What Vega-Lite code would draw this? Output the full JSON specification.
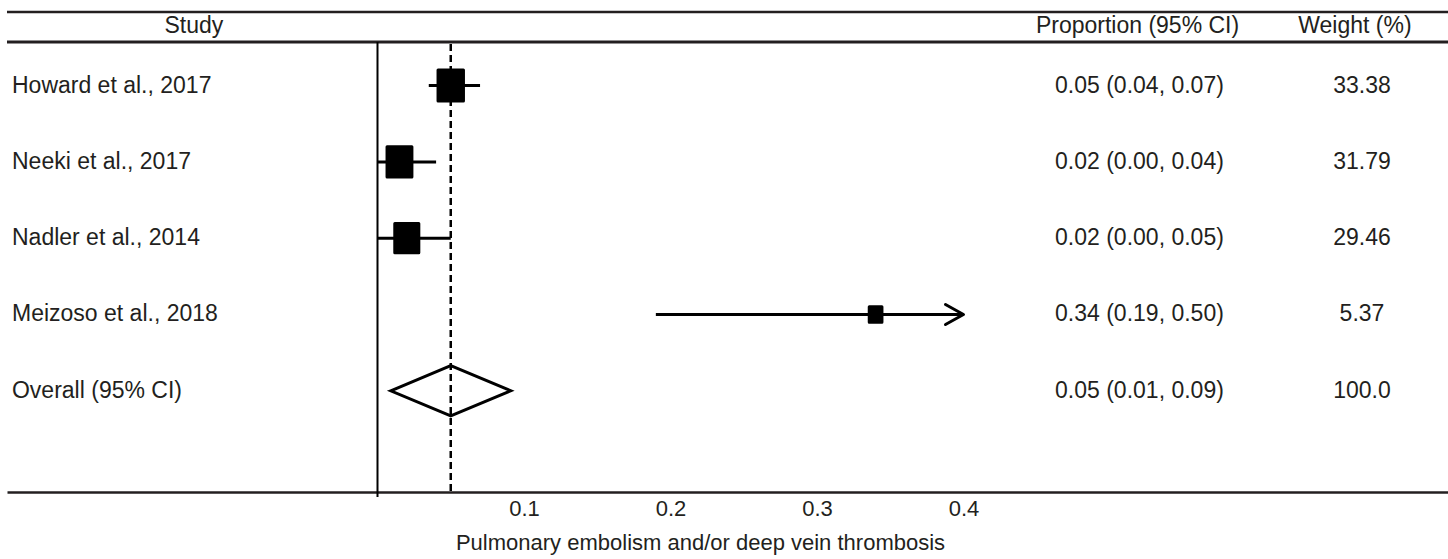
{
  "$schema": "https://vega.github.io/schema/vega-lite/v6.json",
  "width": 1441,
  "height": 480,
  "autosize": {"type": "none"},
  "padding": {"left": 7, "top": 12, "right": 0, "bottom": 67},
  "background": "white",
  "config": {
    "view": {"stroke": null},
    "font": "Liberation Sans",
    "text": {"font": "Liberation Sans", "fontSize": 23, "color": "#231f20", "baseline": "middle"}
  },
  "datasets": {
    "studies": [
      {"study": "Howard et al., 2017", "row": 1, "kind": "study", "est": 0.05, "lo": 0.035, "hi": 0.07, "hi_drawn": 0.07, "truncated": false, "weight": 33.38, "ci_label": "0.05 (0.04, 0.07)", "weight_label": "33.38"},
      {"study": "Neeki et al., 2017", "row": 2, "kind": "study", "est": 0.015, "lo": 0.0, "hi": 0.04, "hi_drawn": 0.04, "truncated": false, "weight": 31.79, "ci_label": "0.02 (0.00, 0.04)", "weight_label": "31.79"},
      {"study": "Nadler et al., 2014", "row": 3, "kind": "study", "est": 0.02, "lo": 0.0, "hi": 0.05, "hi_drawn": 0.05, "truncated": false, "weight": 29.46, "ci_label": "0.02 (0.00, 0.05)", "weight_label": "29.46"},
      {"study": "Meizoso et al., 2018", "row": 4, "kind": "study", "est": 0.34, "lo": 0.19, "hi": 0.5, "hi_drawn": 0.4, "truncated": true, "weight": 5.37, "ci_label": "0.34 (0.19, 0.50)", "weight_label": "5.37"},
      {"study": "Overall (95% CI)", "row": 5, "kind": "overall", "est": 0.05, "lo": 0.01, "hi": 0.09, "hi_drawn": 0.09, "truncated": false, "weight": 100.0, "ci_label": "0.05 (0.01, 0.09)", "weight_label": "100.0"}
    ]
  },
  "layer": [
    {
      "data": {"name": "studies"},
      "transform": [{"filter": "datum.kind === 'study'"}],
      "mark": {"type": "rule", "color": "#000000", "strokeWidth": 3},
      "encoding": {
        "x": {
          "field": "lo", "type": "quantitative",
          "scale": {"domain": [-0.2529, 0.73072], "nice": false, "zero": false},
          "title": "Pulmonary embolism and/or deep vein thrombosis",
          "axis": {
            "values": [0.1, 0.2, 0.3, 0.4], "format": ".1f",
            "ticks": false, "grid": false,
            "domain": true, "domainColor": "#231f20", "domainWidth": 2.5,
            "labelFont": "Liberation Sans", "labelFontSize": 22, "labelColor": "#231f20", "labelPadding": 6,
            "labelFlush": false,
            "titleFont": "Liberation Sans", "titleFontSize": 22, "titleFontWeight": "normal", "titleColor": "#231f20",
            "titlePadding": 13, "titleX": 693
          }
        },
        "x2": {"field": "hi_drawn"},
        "y": {"field": "row", "type": "quantitative", "scale": {"domain": [0.0354, 6.3264], "reverse": true, "nice": false, "zero": false}, "axis": null}
      }
    },
    {
      "data": {"values": [{}]},
      "mark": {"type": "rule", "color": "#231f20", "strokeWidth": 2.5},
      "encoding": {
        "y": {"datum": 0.0354, "scale": {"domain": [0.0354, 6.3264], "reverse": true, "nice": false, "zero": false}, "axis": null}
      }
    },
    {
      "data": {"values": [{}]},
      "mark": {"type": "rule", "color": "#231f20", "strokeWidth": 3},
      "encoding": {
        "y": {"datum": 0.4286, "scale": {"domain": [0.0354, 6.3264], "reverse": true, "nice": false, "zero": false}, "axis": null}
      }
    },
    {
      "data": {"values": [{}]},
      "mark": {"type": "rule", "color": "#000000", "strokeWidth": 2},
      "encoding": {
        "x": {"datum": 0, "scale": {"domain": [-0.2529, 0.73072], "nice": false, "zero": false}, "title": "Pulmonary embolism and/or deep vein thrombosis"},
        "y": {"datum": 0.4286, "scale": {"domain": [0.0354, 6.3264], "reverse": true, "nice": false, "zero": false}, "axis": null},
        "y2": {"datum": 6.392}
      }
    },
    {
      "data": {"name": "studies"},
      "transform": [{"filter": "datum.kind === 'overall'"}],
      "mark": {"type": "rule", "color": "#000000", "strokeWidth": 2.5, "strokeDash": [7, 4]},
      "encoding": {
        "x": {"field": "est", "type": "quantitative", "scale": {"domain": [-0.2529, 0.73072], "nice": false, "zero": false}, "title": "Pulmonary embolism and/or deep vein thrombosis"},
        "y": {"datum": 0.455, "scale": {"domain": [0.0354, 6.3264], "reverse": true, "nice": false, "zero": false}, "axis": null},
        "y2": {"datum": 6.366}
      }
    },
    {
      "data": {"name": "studies"},
      "transform": [{"filter": "datum.kind === 'study'"}],
      "mark": {"type": "point", "filled": true, "color": "#000000", "stroke": "#000000", "strokeWidth": 3, "strokeJoin": "round", "opacity": 1, "shape": "M-0.82,-1H0.82V1H-0.82Z"},
      "encoding": {
        "x": {"field": "est", "type": "quantitative", "scale": {"domain": [-0.2529, 0.73072], "nice": false, "zero": false}, "title": "Pulmonary embolism and/or deep vein thrombosis"},
        "y": {"field": "row", "type": "quantitative", "scale": {"domain": [0.0354, 6.3264], "reverse": true, "nice": false, "zero": false}, "axis": null},
        "size": {"field": "weight", "type": "quantitative", "scale": {"domain": [5.37, 33.38], "range": [240, 961]}, "legend": null}
      }
    },
    {
      "data": {"name": "studies"},
      "transform": [{"filter": "datum.truncated"}],
      "mark": {"type": "point", "filled": false, "stroke": "#000000", "strokeWidth": 3, "strokeCap": "round", "strokeJoin": "round", "opacity": 1, "size": 400, "shape": "M-1.8,-1L0,0L-1.8,1"},
      "encoding": {
        "x": {"field": "hi_drawn", "type": "quantitative", "scale": {"domain": [-0.2529, 0.73072], "nice": false, "zero": false}, "title": "Pulmonary embolism and/or deep vein thrombosis"},
        "y": {"field": "row", "type": "quantitative", "scale": {"domain": [0.0354, 6.3264], "reverse": true, "nice": false, "zero": false}, "axis": null}
      }
    },
    {
      "data": {"name": "studies"},
      "transform": [{"filter": "datum.kind === 'overall'"}],
      "mark": {"type": "point", "filled": false, "stroke": "#000000", "strokeWidth": 3, "strokeJoin": "miter", "opacity": 1, "size": 14400, "shape": "M-1,0L0,-0.42L1,0L0,0.42Z"},
      "encoding": {
        "x": {"field": "est", "type": "quantitative", "scale": {"domain": [-0.2529, 0.73072], "nice": false, "zero": false}, "title": "Pulmonary embolism and/or deep vein thrombosis"},
        "y": {"field": "row", "type": "quantitative", "scale": {"domain": [0.0354, 6.3264], "reverse": true, "nice": false, "zero": false}, "axis": null}
      }
    },
    {
      "data": {"name": "studies"},
      "mark": {"type": "text", "align": "left", "fontSize": 23},
      "encoding": {
        "x": {"datum": -0.2495, "scale": {"domain": [-0.2529, 0.73072], "nice": false, "zero": false}},
        "y": {"field": "row", "type": "quantitative", "scale": {"domain": [0.0354, 6.3264], "reverse": true, "nice": false, "zero": false}, "axis": null},
        "text": {"field": "study"}
      }
    },
    {
      "data": {"name": "studies"},
      "mark": {"type": "text", "align": "left", "fontSize": 23},
      "encoding": {
        "x": {"datum": 0.4625, "scale": {"domain": [-0.2529, 0.73072], "nice": false, "zero": false}},
        "y": {"field": "row", "type": "quantitative", "scale": {"domain": [0.0354, 6.3264], "reverse": true, "nice": false, "zero": false}, "axis": null},
        "text": {"field": "ci_label"}
      }
    },
    {
      "data": {"name": "studies"},
      "mark": {"type": "text", "align": "center", "fontSize": 23},
      "encoding": {
        "x": {"datum": 0.672, "scale": {"domain": [-0.2529, 0.73072], "nice": false, "zero": false}},
        "y": {"field": "row", "type": "quantitative", "scale": {"domain": [0.0354, 6.3264], "reverse": true, "nice": false, "zero": false}, "axis": null},
        "text": {"field": "weight_label"}
      }
    },
    {
      "data": {"values": [{"header": "Study"}]},
      "mark": {"type": "text", "align": "center", "fontSize": 23},
      "encoding": {
        "x": {"datum": -0.1253, "scale": {"domain": [-0.2529, 0.73072], "nice": false, "zero": false}},
        "y": {"datum": 0.2189, "scale": {"domain": [0.0354, 6.3264], "reverse": true, "nice": false, "zero": false}, "axis": null},
        "text": {"field": "header"}
      }
    },
    {
      "data": {"values": [{"header": "Proportion (95% CI)"}]},
      "mark": {"type": "text", "align": "center", "fontSize": 23},
      "encoding": {
        "x": {"datum": 0.5188, "scale": {"domain": [-0.2529, 0.73072], "nice": false, "zero": false}},
        "y": {"datum": 0.2189, "scale": {"domain": [0.0354, 6.3264], "reverse": true, "nice": false, "zero": false}, "axis": null},
        "text": {"field": "header"}
      }
    },
    {
      "data": {"values": [{"header": "Weight (%)"}]},
      "mark": {"type": "text", "align": "center", "fontSize": 23},
      "encoding": {
        "x": {"datum": 0.6672, "scale": {"domain": [-0.2529, 0.73072], "nice": false, "zero": false}},
        "y": {"datum": 0.2189, "scale": {"domain": [0.0354, 6.3264], "reverse": true, "nice": false, "zero": false}, "axis": null},
        "text": {"field": "header"}
      }
    }
  ]
}
